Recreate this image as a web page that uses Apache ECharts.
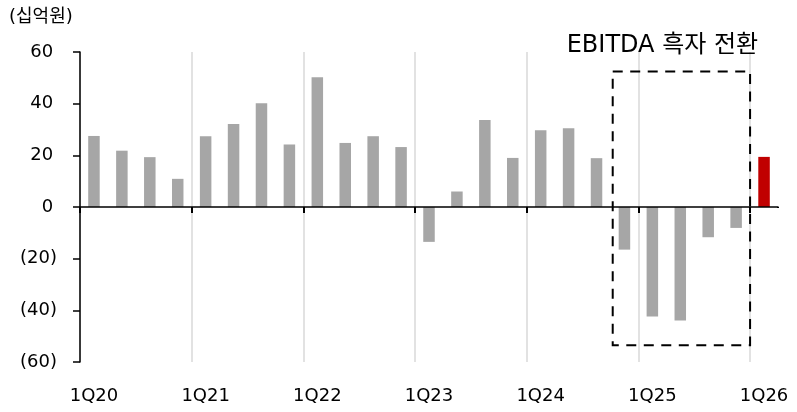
<!DOCTYPE html>
<html>
<head>
<meta charset="utf-8">
<script src="https://cdn.jsdelivr.net/npm/echarts@6/dist/echarts.min.js"></script>
<style>
  html, body { margin: 0; padding: 0; background: #fff; }
  #chart { width: 797px; height: 412px; }
</style>
</head>
<body>
<div id="chart"></div>
<script>
// Quarterly EBITDA, 십억원
const quarters = [
  '1Q20', '2Q20', '3Q20', '4Q20',
  '1Q21', '2Q21', '3Q21', '4Q21',
  '1Q22', '2Q22', '3Q22', '4Q22',
  '1Q23', '2Q23', '3Q23', '4Q23',
  '1Q24', '2Q24', '3Q24', '4Q24',
  '1Q25', '2Q25', '3Q25', '4Q25',
  '1Q26'
];
const ebitda = [
  27.5, 21.8, 19.3, 10.9,
  27.4, 32.1, 40.2, 24.2,
  50.2, 24.8, 27.4, 23.2,
  -13.5, 6.0, 33.7, 19.0,
  29.7, 30.5, 18.9, -16.5,
  -42.4, -43.9, -11.7, -8.1,
  19.4
];
const highlightQuarter = '1Q26';
const unitLabel = '(십억원)';
const calloutText = 'EBITDA 흑자 전환';
// the loss-making stretch framed by the dashed box
const boxFrom = '4Q24';
const boxTo = '4Q25';
const boxTop = 52.5;
const boxBottom = -53.5;

const FONT = '"DejaVu Sans", "Noto Sans CJK KR", sans-serif';
const GRAY = '#a6a6a6';
const RED = '#c00000';
const GRIDLINE = '#d9d9d9';

const chart = echarts.init(document.getElementById('chart'), null, { renderer: 'canvas' });

function fmtY(v) {
  if (v < 0) return '{n|(' + Math.abs(v) + ')}';
  // keep digits aligned with those of the parenthesised negatives
  return '{n|' + v + '}{h|)}';
}

const unitText = {
  type: 'text', left: 9, top: 8,
  style: { text: unitLabel, fontFamily: FONT, fontSize: 18, fill: '#000' }
};

chart.setOption({
  animation: false,
  grid: { left: 80, right: 19, top: 52, bottom: 50, containLabel: false },
  xAxis: [
    {
      type: 'category',
      data: quarters,
      position: 'bottom',
      axisLine: { onZero: true, lineStyle: { color: '#000', width: 1.5 } },
      axisTick: { show: true, interval: 3, length: 6, lineStyle: { color: '#000', width: 2 } },
      axisLabel: { show: false },
      splitLine: { show: false },
      z: 5
    },
    {
      type: 'category',
      data: quarters,
      position: 'bottom',
      axisLine: { show: false, onZero: false },
      axisTick: { show: false },
      axisLabel: {
        show: true, interval: 3, margin: 25,
        fontFamily: FONT, fontSize: 18, color: '#000'
      },
      // year separators every four quarters; none on the closing edge
      splitLine: {
        show: true, interval: 3, showMinLine: true, showMaxLine: false,
        lineStyle: { color: GRIDLINE, width: 1.5 }
      }
    }
  ],
  yAxis: {
    type: 'value',
    min: -60, max: 60, interval: 20,
    axisLine: { show: true, lineStyle: { color: '#000', width: 1.5 } },
    axisTick: { show: true, length: 7, lineStyle: { color: '#000', width: 1.5 } },
    splitLine: { show: false },
    axisLabel: {
      margin: 23,
      formatter: fmtY,
      rich: {
        n: { fontFamily: FONT, fontSize: 18, color: '#000' },
        h: { fontFamily: FONT, fontSize: 10, color: 'rgba(0,0,0,0)' }
      }
    }
  },
  series: [{
    type: 'bar',
    xAxisIndex: 0,
    barWidth: 11.5,
    data: ebitda.map((v, i) => ({
      value: v,
      itemStyle: { color: quarters[i] === highlightQuarter ? RED : GRAY }
    })),
    z: 3
  }],
  graphic: [unitText]
});

// Dashed frame around the loss-making quarters plus the callout above it
function drawBox() {
  const i0 = quarters.indexOf(boxFrom);
  const i1 = quarters.indexOf(boxTo);
  const c0 = chart.convertToPixel({ xAxisIndex: 0 }, boxFrom);
  const c1 = chart.convertToPixel({ xAxisIndex: 0 }, boxTo);
  const band = (c1 - c0) / (i1 - i0);
  const x0 = c0 - band * 0.42;
  const x1 = c1 + band * 0.5;
  const y0 = chart.convertToPixel({ yAxisIndex: 0 }, boxTop);
  const y1 = chart.convertToPixel({ yAxisIndex: 0 }, boxBottom);
  // hide the closing-edge tick on the zero line
  const zeroY = chart.convertToPixel({ yAxisIndex: 0 }, 0);
  const endX = chart.convertToPixel({ xAxisIndex: 0 }, quarters[quarters.length - 1]) + band / 2;
  chart.setOption({
    graphic: [
      unitText,
      {
        type: 'rect', z: 20, silent: true,
        shape: { x: endX - 2, y: zeroY + 1, width: 4, height: 8 },
        style: { fill: '#fff' }
      },
      {
        type: 'rect', z: 10,
        shape: { x: x0, y: y0, width: x1 - x0, height: y1 - y0 },
        style: { fill: 'none', stroke: '#000', lineWidth: 2, lineDash: [10, 7.5] }
      },
      {
        type: 'text', z: 10,
        x: (x0 + x1) / 2 - 19, y: y0 - 26,
        style: {
          text: calloutText, fontFamily: FONT, fontSize: 24, fill: '#000',
          align: 'center', verticalAlign: 'middle'
        }
      }
    ]
  }, { replaceMerge: ['graphic'] });
}
drawBox();
</script>
</body>
</html>
